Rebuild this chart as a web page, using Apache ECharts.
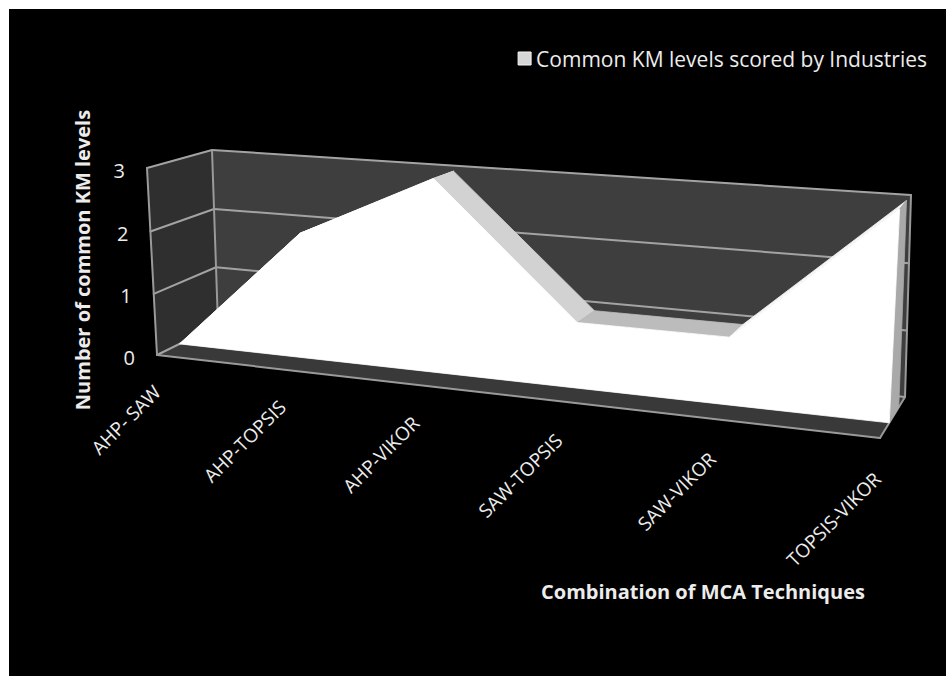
<!DOCTYPE html>
<html>
<head>
<meta charset="utf-8">
<script src="https://cdn.jsdelivr.net/npm/echarts@6/dist/echarts.min.js"></script>
<style>
  html, body { margin: 0; padding: 0; background: #ffffff; width: 950px; height: 687px; overflow: hidden; }
  #chart { position: absolute; left: 9px; top: 9px; width: 937px; height: 667px; }
</style>
</head>
<body>
<div id="chart"></div>
<script>
// ---- data ----
const categories = ['AHP- SAW', 'AHP-TOPSIS', 'AHP-VIKOR', 'SAW-TOPSIS', 'SAW-VIKOR', 'TOPSIS-VIKOR'];
const values = [0, 2, 3, 1, 1, 3];
const yTicks = [0, 1, 2, 3];
const seriesName = 'Common KM levels scored by Industries';
const xTitle = 'Combination of MCA Techniques';
const yTitle = 'Number of common KM levels';

// ---- 3-D box: corners of the front (depth 0) and back (depth 1) planes ----
// order: (start,0) (end,0) (end,max) (start,max)
const FRONT_PLANE = [[148, 346], [871, 429], [884, 208], [138, 159]];
const BACK_PLANE  = [[209, 316], [896, 388], [902, 186], [203, 141]];
const AREA_FRONT = 0.37;   // depth of the area's front face
const AREA_BACK  = 0.75;   // depth of the area's back face

const FONT = '"Open Sans", "Noto Sans", sans-serif';
const C = {
  backWall: '#3e3e3e', sideWall: '#2f2f2f', floor: '#393939',
  grid: '#a3a3a3', edge: '#9a9a9a',
  front: '#ffffff', topDown: '#d2d2d2', topFlat: '#bcbcbc', topUp: '#f6f6f6', endFace: '#a9a9a9',
  text: '#ececec'
};

function squareToQuad(q) {
  const [x0, y0] = q[0], [x1, y1] = q[1], [x2, y2] = q[2], [x3, y3] = q[3];
  const dx1 = x1 - x2, dx2 = x3 - x2, dx3 = x0 - x1 + x2 - x3;
  const dy1 = y1 - y2, dy2 = y3 - y2, dy3 = y0 - y1 + y2 - y3;
  const den = dx1 * dy2 - dx2 * dy1;
  const g = (dx3 * dy2 - dx2 * dy3) / den;
  const h = (dx1 * dy3 - dx3 * dy1) / den;
  const a = x1 - x0 + g * x1, b = x3 - x0 + h * x3, c = x0;
  const d = y1 - y0 + g * y1, e = y3 - y0 + h * y3, f = y0;
  return (u, w) => {
    const k = g * u + h * w + 1;
    return [(a * u + b * w + c) / k, (d * u + e * w + f) / k];
  };
}
const frontMap = squareToQuad(FRONT_PLANE);
const backMap = squareToQuad(BACK_PLANE);
function project(u, w, depth) {
  const p = frontMap(u, w), q = backMap(u, w);
  return [p[0] + (q[0] - p[0]) * depth, p[1] + (q[1] - p[1]) * depth];
}
// normalised (u, w) of a data point, read through the hidden cartesian axes
function unitOf(api, cs, i, v) {
  const p = api.coord([i, v]);
  return [(p[0] - cs.x) / cs.width, (cs.y + cs.height - p[1]) / cs.height];
}
function poly(points, fill, z2) {
  return { type: 'polygon', shape: { points }, z2,
    style: { fill, stroke: fill, lineWidth: 0.8, lineJoin: 'round' } };
}
function line(a, b, stroke, width, z2) {
  return { type: 'line', shape: { x1: a[0], y1: a[1], x2: b[0], y2: b[1] }, z2,
    style: { stroke, lineWidth: width, lineCap: 'round' } };
}

// walls, floor, gridlines and value labels
function renderFrame(params, api) {
  const cs = params.coordSys;
  const children = [];
  const tick = api.value(1);
  const w = unitOf(api, cs, 0, tick)[1];
  if (params.dataIndex === 0) {
    children.push(poly([project(0, 0, 1), project(1, 0, 1), project(1, 1, 1), project(0, 1, 1)], C.backWall, 0));
    children.push(poly([project(0, 0, 0), project(0, 0, 1), project(0, 1, 1), project(0, 1, 0)], C.sideWall, 0));
    children.push(poly([project(0, 0, 0), project(1, 0, 0), project(1, 0, 1), project(0, 0, 1)], C.floor, 0));
    children.push(line(project(0, 0, 0), project(0, 1, 0), C.edge, 2, 2));
    children.push(line(project(0, 0, 1), project(0, 1, 1), C.edge, 2, 2));
    children.push(line(project(1, 0, 1), project(1, 1, 1), C.edge, 2, 2));
    children.push(line(project(0, 0, 0), project(1, 0, 0), C.edge, 2, 2));
    children.push(line(project(1, 0, 0), project(1, 0, 1), C.edge, 2, 2));
  }
  children.push(line(project(0, w, 0), project(0, w, 1), C.grid, 2, 1));
  children.push(line(project(0, w, 1), project(1, w, 1), C.grid, 2, 1));
  const lp = project(0, w, 0);
  children.push({ type: 'text', x: lp[0] - 22, y: lp[1] + 2, z2: 5,
    style: { text: String(tick), fill: C.text, font: '20px ' + FONT, align: 'right', verticalAlign: 'middle' } });
  return { type: 'group', children };
}

// the area: top surface per segment, one front face, right end face
function renderArea(params, api) {
  const cs = params.coordSys;
  const i = params.dataIndex;
  const children = [];
  const [u0, w0] = unitOf(api, cs, i, api.value(1));
  if (i === 0) {
    const outline = values.map((v, k) => {
      const [u, w] = unitOf(api, cs, k, v);
      return project(u, w, AREA_FRONT);
    });
    const uEnd = unitOf(api, cs, values.length - 1, 0)[0];
    outline.push(project(uEnd, 0, AREA_FRONT));
    outline.push(project(u0, 0, AREA_FRONT));
    children.push(poly(outline, C.front, 12));
  }
  if (i < values.length - 1) {
    const [u1, w1] = unitOf(api, cs, i + 1, values[i + 1]);
    const top = w1 < w0 ? C.topDown : (w1 === w0 ? C.topFlat : C.topUp);
    children.push(poly([project(u0, w0, AREA_FRONT), project(u1, w1, AREA_FRONT),
                        project(u1, w1, AREA_BACK), project(u0, w0, AREA_BACK)], top, 10));
  } else {
    children.push(poly([project(u0, 0, AREA_FRONT), project(u0, w0, AREA_FRONT),
                        project(u0, w0, AREA_BACK), project(u0, 0, AREA_BACK)], C.endFace, 11));
  }
  return { type: 'group', children };
}

// category labels along the front edge of the floor
function renderCategory(params, api) {
  const cs = params.coordSys;
  const i = params.dataIndex;
  const [u] = unitOf(api, cs, i, 0);
  const p = project(u, -0.13, 0);
  return { type: 'text', x: p[0] - 1, y: p[1] + 10, rotation: Math.PI / 4, z2: 5,
    style: { text: categories[i], fill: C.text, font: '19px ' + FONT, align: 'right', verticalAlign: 'middle' } };
}

const chart = echarts.init(document.getElementById('chart'), null, { renderer: 'svg' });
chart.setOption({
  backgroundColor: '#000000',
  animation: false,
  grid: { left: 0, right: 0, top: 0, bottom: 0, show: false },
  xAxis: { type: 'category', data: categories, boundaryGap: false, show: false },
  yAxis: { type: 'value', min: 0, max: 3, interval: 1, show: false },
  legend: {
    data: [seriesName], right: 14, top: 34, icon: 'rect', itemWidth: 13, itemHeight: 13, itemGap: 6,
    itemStyle: { color: '#d6d6d6', borderColor: '#f4f4f4', borderWidth: 1 },
    textStyle: { color: C.text, fontSize: 21, fontFamily: FONT }
  },
  graphic: [
    { type: 'text', x: 694, y: 582, style: { text: xTitle, fill: C.text, font: 'bold 20px ' + FONT, align: 'center', verticalAlign: 'middle' } },
    { type: 'text', x: 73, y: 251, rotation: Math.PI / 2, style: { text: yTitle, fill: C.text, font: 'bold 20px ' + FONT, align: 'center', verticalAlign: 'middle' } }
  ],
  series: [
    { type: 'custom', name: 'frame', silent: true, z: 1, renderItem: renderFrame,
      data: yTicks.map(t => [0, t]) },
    { type: 'custom', name: seriesName, z: 2, renderItem: renderArea,
      itemStyle: { color: '#d6d6d6' },
      data: values.map((v, i) => [i, v]) },
    { type: 'custom', name: 'labels', silent: true, z: 3, renderItem: renderCategory,
      data: categories.map((c, i) => [i, 0]) }
  ]
});
</script>
</body>
</html>
